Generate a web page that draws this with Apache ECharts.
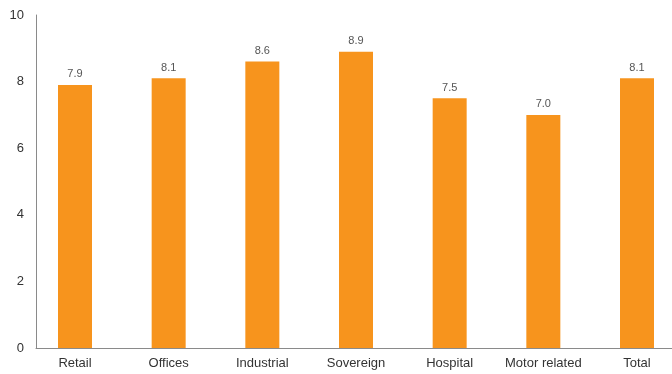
<!DOCTYPE html>
<html>
<head>
<meta charset="utf-8">
<script src="https://cdn.jsdelivr.net/npm/echarts@6/dist/echarts.min.js"></script>
<style>
  html, body { margin: 0; padding: 0; background: #fff; }
  #chart { width: 672px; height: 374px; }
</style>
</head>
<body>
<div id="chart"></div>
<script>
var categories = ['Retail', 'Offices', 'Industrial', 'Sovereign', 'Hospital', 'Motor related', 'Total'];
var values = [7.9, 8.1, 8.6, 8.9, 7.5, 7.0, 8.1];
var yTicks = [0, 2, 4, 6, 8, 10];

var font = 'Helvetica, "Liberation Sans", Arial, sans-serif';
var barColor = '#F7941D';

var chart = echarts.init(document.getElementById('chart'), null, { renderer: 'canvas' });

var option = {
  animation: false,
  grid: [
    // frame with the visible axes
    { left: 36, right: 0, top: 15, bottom: 26 },
    // bars: first and last category sit on the grid edges
    { left: 75, right: 35, top: 15, bottom: 26 }
  ],
  xAxis: [
    {
      gridIndex: 0,
      type: 'category',
      data: categories,
      axisLine: { show: true, lineStyle: { color: '#8a8a8a', width: 1 } },
      axisTick: { show: false },
      axisLabel: { show: false }
    },
    {
      gridIndex: 1,
      type: 'category',
      data: categories,
      boundaryGap: false,
      axisLine: { show: false },
      axisTick: { show: false },
      axisLabel: { interval: 0, hideOverlap: false, color: '#333', fontSize: 13, fontFamily: font, margin: 9 }
    }
  ],
  yAxis: [
    {
      gridIndex: 0,
      type: 'value',
      min: yTicks[0],
      max: yTicks[yTicks.length - 1],
      interval: 2,
      axisLine: { show: true, lineStyle: { color: '#8a8a8a', width: 1 } },
      axisTick: { show: false },
      splitLine: { show: false },
      axisLabel: { color: '#333', fontSize: 13, fontFamily: font, margin: 12 }
    },
    {
      gridIndex: 1,
      type: 'value',
      min: yTicks[0],
      max: yTicks[yTicks.length - 1],
      show: false
    }
  ],
  series: [{
    type: 'bar',
    xAxisIndex: 1,
    yAxisIndex: 1,
    data: values,
    barWidth: 34,
    itemStyle: { color: barColor },
    label: {
      show: true,
      position: 'top',
      distance: 5,
      color: '#555',
      fontSize: 11,
      fontFamily: font,
      formatter: function (p) { return p.value.toFixed(1); }
    }
  }]
};

chart.setOption(option);
</script>
</body>
</html>
